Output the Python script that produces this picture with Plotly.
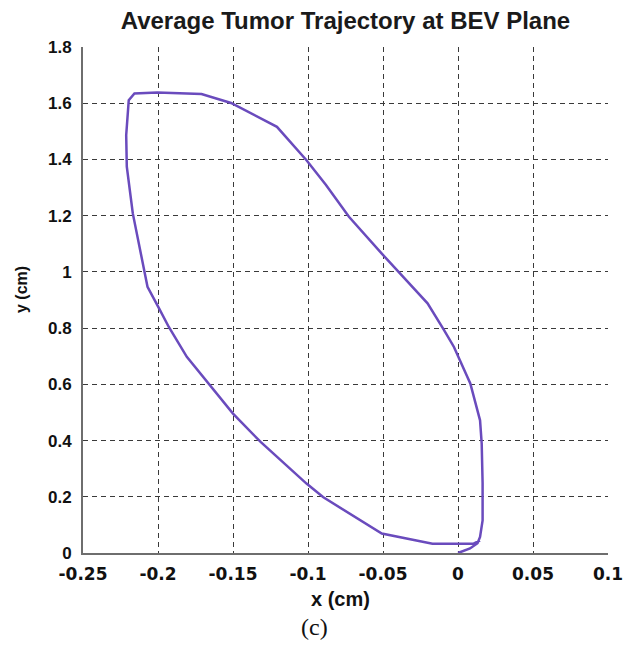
import plotly.graph_objects as go

# Trajectory points (cm)
x_cm = [0.0, 0.008, 0.013, 0.0147, 0.0164, 0.0164, 0.0158, 0.0147, 0.0082, -0.0027,
        -0.0093, -0.0203, -0.0508, -0.0727, -0.088, -0.101, -0.1207, -0.1513, -0.171,
        -0.2005, -0.2157, -0.2195, -0.2212, -0.2208, -0.2168, -0.207, -0.1993, -0.1928,
        -0.1808, -0.1655, -0.150, -0.1316, -0.101, -0.090, -0.0683, -0.0508, -0.017,
        0.0104, 0.0147]
y_cm = [0.0, 0.016, 0.035, 0.057, 0.116, 0.250, 0.389, 0.472, 0.603, 0.733,
        0.793, 0.888, 1.065, 1.196, 1.309, 1.397, 1.516, 1.601, 1.633,
        1.638, 1.635, 1.611, 1.486, 1.374, 1.208, 0.947, 0.870, 0.804,
        0.698, 0.597, 0.496, 0.395, 0.247, 0.199, 0.128, 0.069, 0.033,
        0.033, 0.045]

x_ticks = [-0.25, -0.2, -0.15, -0.1, -0.05, 0, 0.05, 0.1]
x_tick_labels = ["-0.25", "-0.2", "-0.15", "-0.1", "-0.05", "0", "0.05", "0.1"]
y_ticks = [0, 0.2, 0.4, 0.6, 0.8, 1, 1.2, 1.4, 1.6, 1.8]
y_tick_labels = ["0", "0.2", "0.4", "0.6", "0.8", "1", "1.2", "1.4", "1.6", "1.8"]

fig = go.Figure()
fig.add_trace(go.Scatter(x=x_cm, y=y_cm, mode="lines",
                         line=dict(color="#6a4bbd", width=2.5), showlegend=False))

font_main = "Liberation Sans, Arial, sans-serif"
font_wide = "DejaVu Sans, Liberation Sans, sans-serif"
grid_kw = dict(showgrid=True, gridcolor="#3a3a3a", griddash="5px,4px", gridwidth=1.2,
               zeroline=False, showline=True, linecolor="#6e6e6e", linewidth=2, ticks="")
fig.update_layout(
    width=635, height=660,
    margin=dict(l=83, r=18, t=47, b=107),
    paper_bgcolor="white", plot_bgcolor="white",
    title=dict(text="Average Tumor Trajectory at BEV Plane", x=0.544, xanchor="center",
               y=0.969, yanchor="middle",
               font=dict(family=font_main, size=24, color="#1a1a1a", weight="bold")),
    xaxis=dict(range=[-0.25, 0.1], tickvals=x_ticks, ticktext=x_tick_labels,
               ticklabelstandoff=5,
               tickfont=dict(family=font_wide, size=17, color="#111", weight="bold"),
               **grid_kw),
    yaxis=dict(range=[0, 1.8], tickvals=y_ticks, ticktext=y_tick_labels,
               ticklabelstandoff=6,
               tickfont=dict(family=font_main, size=17, color="#111", weight="bold"),
               **grid_kw),
)
fig.add_annotation(text="x (cm)", xref="paper", yref="paper", x=0.49, y=-0.091,
                   xanchor="center", yanchor="middle", showarrow=False,
                   font=dict(family=font_main, size=20, color="#111", weight="bold"))
fig.add_annotation(text="y (cm)", xref="paper", yref="paper", x=-0.116, y=0.52,
                   xanchor="center", yanchor="middle", showarrow=False, textangle=-90,
                   font=dict(family=font_main, size=16, color="#111", weight="bold"))
fig.add_annotation(text="(c)", xref="paper", yref="paper", x=0.44, y=-0.147,
                   xanchor="center", yanchor="middle", showarrow=False,
                   font=dict(family="Liberation Serif, DejaVu Serif, serif", size=24, color="#111"))
fig.write_html("out.html")
